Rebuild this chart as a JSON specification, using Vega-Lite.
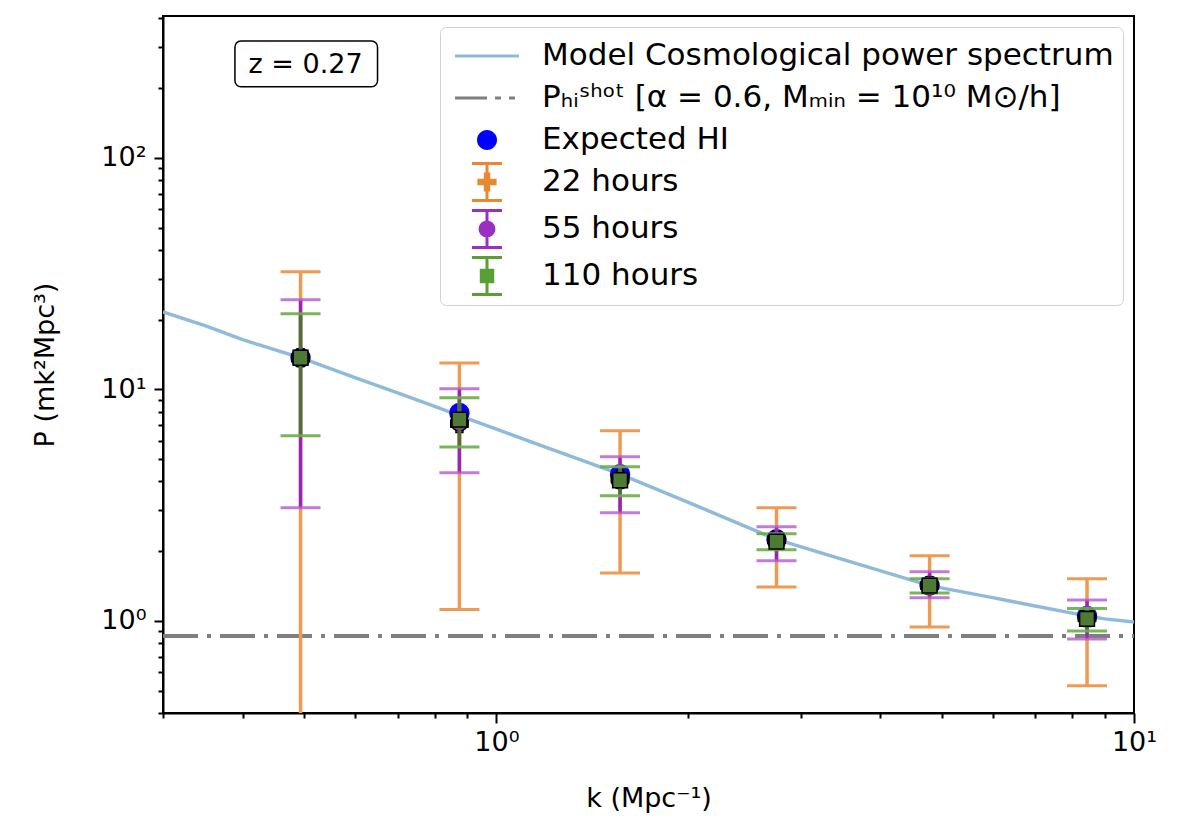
{
  "$schema": "https://vega.github.io/schema/vega-lite/v6.json",
  "width": 971,
  "height": 697,
  "autosize": {"type": "none"},
  "padding": {"left": 163, "top": 16, "right": 44, "bottom": 123},
  "background": "white",
  "config": {
    "font": "DejaVu Sans",
    "view": {"stroke": "black", "strokeWidth": 2},
    "axis": {
      "domainColor": "black", "domainWidth": 2, "tickColor": "black", "tickWidth": 2,
      "labelFont": "DejaVu Sans", "labelFontSize": 27, "labelColor": "black",
      "titleFont": "DejaVu Sans", "titleFontSize": 27, "titleFontWeight": "normal", "titleColor": "black",
      "grid": false, "labelOverlap": false, "labelFlush": false
    }
  },
  "datasets": {
    "model": [
      {"k": 0.3, "P": 21.6}, {"k": 0.35, "P": 18.8}, {"k": 0.4, "P": 16.4}, {"k": 0.45, "P": 14.8},
      {"k": 0.493, "P": 13.7}, {"k": 0.6, "P": 11.25}, {"k": 0.7, "P": 9.65}, {"k": 0.8, "P": 8.44},
      {"k": 0.875, "P": 7.7}, {"k": 1.0, "P": 6.74}, {"k": 1.2, "P": 5.6}, {"k": 1.563, "P": 4.3},
      {"k": 2.0, "P": 3.25}, {"k": 2.5, "P": 2.51}, {"k": 2.75, "P": 2.25}, {"k": 3.5, "P": 1.84},
      {"k": 4.78, "P": 1.42}, {"k": 6.0, "P": 1.26}, {"k": 7.0, "P": 1.16}, {"k": 8.0, "P": 1.08},
      {"k": 8.44, "P": 1.05}, {"k": 9.0, "P": 1.02}, {"k": 10.0, "P": 0.99}
    ],
    "shot": [{"k": 0.3, "P": 0.86}, {"k": 10, "P": 0.86}],
    "expected": [
      {"k": 0.493, "P": 13.7}, {"k": 0.875, "P": 7.9}, {"k": 1.563, "P": 4.3},
      {"k": 2.75, "P": 2.25}, {"k": 4.78, "P": 1.42}, {"k": 8.44, "P": 1.05}
    ],
    "obs": [
      {"series": "22 hours", "k": 0.493, "P": 13.7, "lo": 0.05, "hi": 32.2},
      {"series": "22 hours", "k": 0.875, "P": 7.1, "lo": 1.12, "hi": 13.0},
      {"series": "22 hours", "k": 1.563, "P": 4.1, "lo": 1.61, "hi": 6.62},
      {"series": "22 hours", "k": 2.75, "P": 2.24, "lo": 1.4, "hi": 3.08},
      {"series": "22 hours", "k": 4.78, "P": 1.42, "lo": 0.94, "hi": 1.91},
      {"series": "22 hours", "k": 8.44, "P": 1.03, "lo": 0.524, "hi": 1.52},
      {"series": "55 hours", "k": 0.493, "P": 13.7, "lo": 3.08, "hi": 24.4},
      {"series": "55 hours", "k": 0.875, "P": 7.2, "lo": 4.36, "hi": 10.05},
      {"series": "55 hours", "k": 1.563, "P": 4.05, "lo": 2.93, "hi": 5.11},
      {"series": "55 hours", "k": 2.75, "P": 2.2, "lo": 1.82, "hi": 2.55},
      {"series": "55 hours", "k": 4.78, "P": 1.42, "lo": 1.26, "hi": 1.63},
      {"series": "55 hours", "k": 8.44, "P": 1.03, "lo": 0.836, "hi": 1.23},
      {"series": "110 hours", "k": 0.493, "P": 13.7, "lo": 6.3, "hi": 21.2},
      {"series": "110 hours", "k": 0.875, "P": 7.4, "lo": 5.64, "hi": 9.19},
      {"series": "110 hours", "k": 1.563, "P": 4.05, "lo": 3.47, "hi": 4.63},
      {"series": "110 hours", "k": 2.75, "P": 2.2, "lo": 2.03, "hi": 2.38},
      {"series": "110 hours", "k": 4.78, "P": 1.42, "lo": 1.32, "hi": 1.52},
      {"series": "110 hours", "k": 8.44, "P": 1.02, "lo": 0.905, "hi": 1.13}
    ],
    "note": [{"k": 0.389, "k2": 0.651, "P": 203, "P2": 320, "kt": 0.502, "Pt": 252, "label": "z = 0.27"}]
  },
  "encoding": {
    "x": {
      "field": "k", "type": "quantitative",
      "scale": {"type": "log", "domain": [0.3, 10], "nice": false, "zero": false},
      "axis": {
        "title": "k (Mpc⁻¹)",
        "values": [0.3, 0.4, 0.5, 0.6, 0.7, 0.8, 0.9, 1, 2, 3, 4, 5, 6, 7, 8, 9, 10],
        "labelExpr": "datum.value == 1 ? '10⁰' : (datum.value == 10 ? '10¹' : '')",
        "tickSize": {"condition": {"test": "datum.value == 1 || datum.value == 10", "value": 10}, "value": 5},
        "labelPadding": 6, "titlePadding": 30
      }
    },
    "y": {
      "field": "P", "type": "quantitative",
      "scale": {"type": "log", "domain": [0.4, 410], "nice": false, "zero": false},
      "axis": {
        "title": "P (mk²Mpc³)",
        "values": [0.4, 0.5, 0.6, 0.7, 0.8, 0.9, 1, 2, 3, 4, 5, 6, 7, 8, 9, 10, 20, 30, 40, 50, 60, 70, 80, 90, 100, 200, 300, 400],
        "labelExpr": "datum.value == 1 ? '10⁰' : (datum.value == 10 ? '10¹' : (datum.value == 100 ? '10²' : ''))",
        "tickSize": {"condition": {"test": "datum.value == 1 || datum.value == 10 || datum.value == 100", "value": 9}, "value": 5},
        "labelPadding": 8, "titlePadding": 41
      }
    }
  },
  "layer": [
    {
      "data": {"name": "model"},
      "mark": {"type": "line", "color": "#8fbbd9", "strokeWidth": 3.5, "clip": true}
    },
    {
      "data": {"name": "shot"},
      "mark": {"type": "line", "color": "#7f7f7f", "strokeWidth": 4, "strokeDash": [35, 9, 4, 9], "clip": true}
    },
    {
      "data": {"name": "obs"},
      "mark": {"type": "point", "filled": true, "opacity": 0},
      "encoding": {
        "color": {
          "field": "series", "type": "nominal",
          "scale": {
            "domain": ["Model Cosmological power spectrum", "Pₕᵢˢʰᵒᵗ [α = 0.6, Mₘᵢₙ = 10¹⁰ M⊙/h]", "Expected HI", "22 hours", "55 hours", "110 hours"],
            "range": ["#8fbbd9", "#7f7f7f", "#0000ff", "#e8892f", "#9a2fc4", "#5a9e36"]
          },
          "legend": {
            "title": null, "orient": "top-right", "offset": 11,
            "fillColor": "white", "strokeColor": "#d0d0d0", "cornerRadius": 6, "padding": 9,
            "labelFont": "DejaVu Sans", "labelFontSize": 31, "labelColor": "black", "labelLimit": 1000,
            "symbolSize": 1600, "symbolOffset": 18, "labelOffset": 35, "rowPadding": 7,
            "symbolOpacity": 1, "symbolStrokeWidth": 0
          }
        },
        "shape": {
          "field": "series", "type": "nominal",
          "scale": {
            "domain": ["Model Cosmological power spectrum", "Pₕᵢˢʰᵒᵗ [α = 0.6, Mₘᵢₙ = 10¹⁰ M⊙/h]", "Expected HI", "22 hours", "55 hours", "110 hours"],
            "range": [
              "M-1.6,-0.08H1.6V0.08H-1.6Z",
              "M-1.6,-0.08H0V0.08H-1.6Z M0.4,-0.08H0.7V0.08H0.4Z M1.1,-0.08H1.4V0.08H1.1Z",
              "M-0.5,0A0.5,0.5 0 1,1 0.5,0A0.5,0.5 0 1,1 -0.5,0Z",
              "M-0.75,-1H0.75V-0.85H-0.75Z M-0.75,0.85H0.75V1H-0.75Z M-0.075,-0.9H0.075V0.9H-0.075Z M-0.16,-0.48H0.16V-0.16H0.48V0.16H0.16V0.48H-0.16V0.16H-0.48V-0.16H-0.16Z",
              "M-0.75,-1H0.75V-0.85H-0.75Z M-0.75,0.85H0.75V1H-0.75Z M-0.075,-0.9H0.075V0.9H-0.075Z M-0.42,0A0.42,0.42 0 1,1 0.42,0A0.42,0.42 0 1,1 -0.42,0Z",
              "M-0.75,-1H0.75V-0.85H-0.75Z M-0.75,0.85H0.75V1H-0.75Z M-0.075,-0.9H0.075V0.9H-0.075Z M-0.36,-0.36H0.36V0.36H-0.36Z"
            ]
          },
          "legend": {
            "title": null, "orient": "top-right", "offset": 11,
            "fillColor": "white", "strokeColor": "#d0d0d0", "cornerRadius": 6, "padding": 9,
            "labelFont": "DejaVu Sans", "labelFontSize": 31, "labelColor": "black", "labelLimit": 1000,
            "symbolSize": 1600, "symbolOffset": 18, "labelOffset": 35, "rowPadding": 7,
            "symbolOpacity": 1, "symbolStrokeWidth": 0
          }
        }
      }
    },
    {
      "data": {"name": "expected"},
      "mark": {"type": "point", "shape": "circle", "filled": true, "color": "#0000ff", "size": 420, "opacity": 1}
    },
    {
      "data": {"name": "obs"},
      "transform": [{"filter": "datum.series == '22 hours'"}],
      "mark": {"type": "rule", "color": "#ee9a52", "strokeWidth": 3.5, "clip": true},
      "encoding": {"y": {"field": "lo", "type": "quantitative", "title": "P (mk²Mpc³)"}, "y2": {"field": "hi"}}
    },
    {
      "data": {"name": "obs"},
      "transform": [{"filter": "datum.series == '22 hours'"}],
      "mark": {"type": "tick", "orient": "horizontal", "color": "#ee9a52", "size": 40, "thickness": 3, "opacity": 1, "clip": true},
      "encoding": {"y": {"field": "lo", "type": "quantitative", "title": "P (mk²Mpc³)"}}
    },
    {
      "data": {"name": "obs"},
      "transform": [{"filter": "datum.series == '22 hours'"}],
      "mark": {"type": "tick", "orient": "horizontal", "color": "#ee9a52", "size": 40, "thickness": 3, "opacity": 1, "clip": true},
      "encoding": {"y": {"field": "hi", "type": "quantitative", "title": "P (mk²Mpc³)"}}
    },
    {
      "data": {"name": "obs"},
      "transform": [{"filter": "datum.series == '22 hours'"}],
      "mark": {"type": "point", "shape": "cross", "filled": true, "color": "#e8892f", "stroke": "black", "strokeWidth": 1.5, "size": 300, "opacity": 1}
    },
    {
      "data": {"name": "obs"},
      "transform": [{"filter": "datum.series == '55 hours'"}],
      "mark": {"type": "rule", "color": "#9a24b8", "strokeWidth": 3.5, "clip": true},
      "encoding": {"y": {"field": "lo", "type": "quantitative", "title": "P (mk²Mpc³)"}, "y2": {"field": "hi"}}
    },
    {
      "data": {"name": "obs"},
      "transform": [{"filter": "datum.series == '55 hours'"}],
      "mark": {"type": "tick", "orient": "horizontal", "color": "#b45ad0", "size": 40, "thickness": 3, "opacity": 0.8, "clip": true},
      "encoding": {"y": {"field": "lo", "type": "quantitative", "title": "P (mk²Mpc³)"}}
    },
    {
      "data": {"name": "obs"},
      "transform": [{"filter": "datum.series == '55 hours'"}],
      "mark": {"type": "tick", "orient": "horizontal", "color": "#b45ad0", "size": 40, "thickness": 3, "opacity": 0.8, "clip": true},
      "encoding": {"y": {"field": "hi", "type": "quantitative", "title": "P (mk²Mpc³)"}}
    },
    {
      "data": {"name": "obs"},
      "transform": [{"filter": "datum.series == '55 hours'"}],
      "mark": {"type": "point", "shape": "circle", "filled": true, "color": "#9a2fc4", "stroke": "black", "strokeWidth": 1.5, "size": 300, "opacity": 1}
    },
    {
      "data": {"name": "obs"},
      "transform": [{"filter": "datum.series == '110 hours'"}],
      "mark": {"type": "rule", "color": "#4f7033", "strokeWidth": 3.5, "clip": true},
      "encoding": {"y": {"field": "lo", "type": "quantitative", "title": "P (mk²Mpc³)"}, "y2": {"field": "hi"}}
    },
    {
      "data": {"name": "obs"},
      "transform": [{"filter": "datum.series == '110 hours'"}],
      "mark": {"type": "tick", "orient": "horizontal", "color": "#6aae48", "size": 40, "thickness": 3, "opacity": 0.9, "clip": true},
      "encoding": {"y": {"field": "lo", "type": "quantitative", "title": "P (mk²Mpc³)"}}
    },
    {
      "data": {"name": "obs"},
      "transform": [{"filter": "datum.series == '110 hours'"}],
      "mark": {"type": "tick", "orient": "horizontal", "color": "#6aae48", "size": 40, "thickness": 3, "opacity": 0.9, "clip": true},
      "encoding": {"y": {"field": "hi", "type": "quantitative", "title": "P (mk²Mpc³)"}}
    },
    {
      "data": {"name": "obs"},
      "transform": [{"filter": "datum.series == '110 hours'"}],
      "mark": {"type": "point", "shape": "square", "filled": true, "color": "#4e7a35", "stroke": "black", "strokeWidth": 1.5, "size": 220, "opacity": 1}
    },
    {
      "data": {"name": "note"},
      "mark": {"type": "rect", "fill": "white", "stroke": "black", "strokeWidth": 1.5, "cornerRadius": 6},
      "encoding": {
        "x": {"field": "k", "type": "quantitative"},
        "x2": {"field": "k2"},
        "y": {"field": "P", "type": "quantitative"},
        "y2": {"field": "P2"}
      }
    },
    {
      "data": {"name": "note"},
      "mark": {"type": "text", "font": "DejaVu Sans", "fontSize": 27, "color": "black", "align": "center", "baseline": "middle"},
      "encoding": {
        "x": {"field": "kt", "type": "quantitative", "title": "k (Mpc⁻¹)"},
        "y": {"field": "Pt", "type": "quantitative", "title": "P (mk²Mpc³)"},
        "text": {"field": "label"}
      }
    }
  ]
}
